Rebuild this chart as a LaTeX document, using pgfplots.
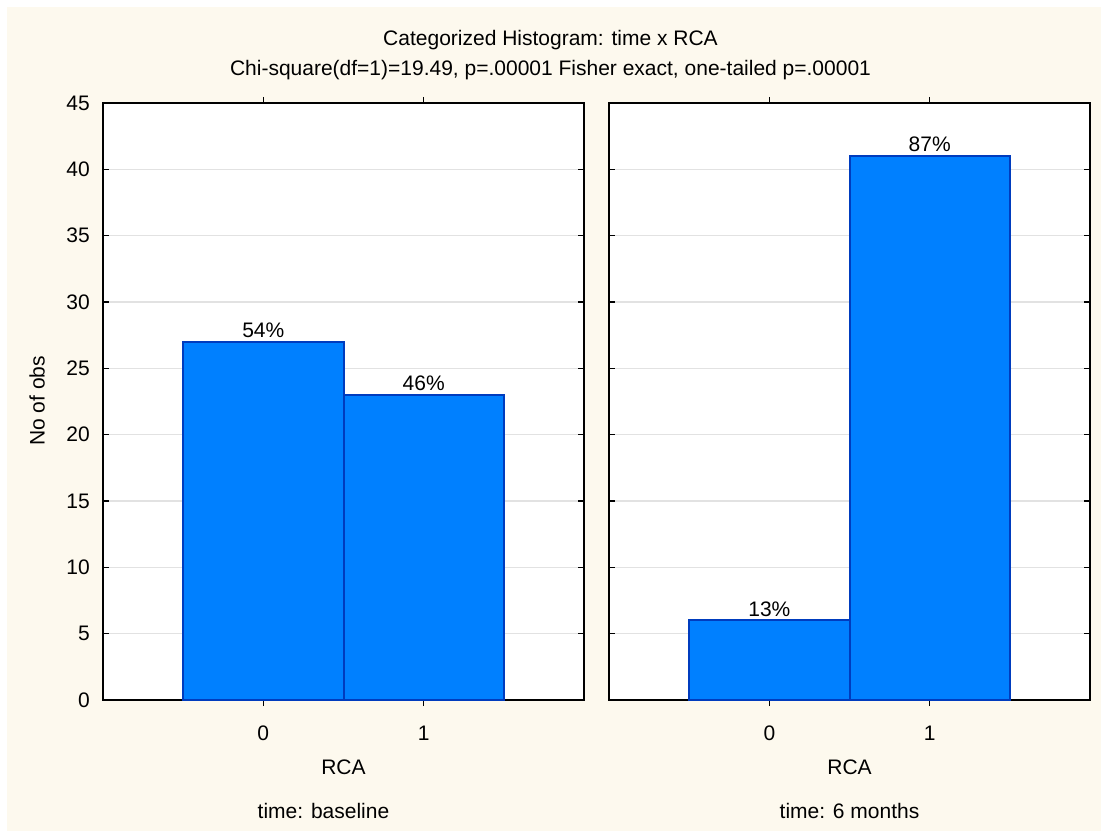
\documentclass[border=0pt]{standalone}
\usepackage{pgfplots}
\pgfplotsset{compat=1.18}
\usepackage{fontspec}
\setmainfont{Liberation Sans}
\definecolor{bgcream}{RGB}{253,249,238}
\definecolor{barfill}{RGB}{0,128,255}
\definecolor{baredge}{RGB}{0,60,190}
\definecolor{gridc}{RGB}{226,226,226}
\pgfplotsset{
  layers/mylayers/.define layer set={axis background,axis grid,main,axis ticks,axis lines,axis tick labels,axis descriptions,axis foreground}{},
}
\newcommand{\ff}{\fontsize{21}{25}\selectfont}
\pgfplotsset{
  panel/.style={
    set layers=mylayers,
    scale only axis,
    width=481pt, height=597pt,
    anchor=south west,
    axis background/.style={fill=white},
    xmin=-1, xmax=2, ymin=0, ymax=45,
    xtick={0,1}, ytick={0,5,...,45},
    ymajorgrids, grid style={gridc, line width=1.3pt},
    axis line style={black, line width=1.6pt},
    tick style={black, line width=1.5pt},
    tick align=inside, major tick length=6pt,
    font=\ff,
    /pgf/number format/assume math mode=true,
    xticklabel style={anchor=center, yshift=-27pt, inner sep=0pt},
    yticklabel style={anchor=east, xshift=-13pt, inner sep=0pt},
    xlabel={RCA},
    xlabel style={at={(axis description cs:0.5,0)}, anchor=center, yshift=-67pt, inner sep=0pt},
    ybar, bar width=1, bar shift=0,
    nodes near coords,
    point meta=explicit symbolic,
    every node near coord/.append style={font=\ff, black, inner sep=3pt, anchor=south},
  },
}
\begin{document}
\begin{tikzpicture}
\fill[white] (0,0) rectangle (1101pt,831pt);
\fill[bgcream] (7pt,0) rectangle (1101pt,824pt);
\node[font=\ff, anchor=center] at (550.5pt,791pt) {Categorized Histogram: time x RCA};
\node[font=\ff, anchor=center] at (550.5pt,761pt) {Chi-square(df=1)=19.49, p=.00001 Fisher exact, one-tailed p=.00001};
\node[font=\ff, anchor=center, rotate=90] at (37pt,430pt) {No of obs};
\node[font=\ff, anchor=center] at (323.5pt,20pt) {time: baseline};
\node[font=\ff, anchor=center] at (849.5pt,20pt) {time: 6 months};
\begin{axis}[panel, at={(103pt,131pt)}]
\addplot[fill=barfill, draw=baredge, line width=2pt] coordinates {(0,27) [54\%] (1,23) [46\%]};
\end{axis}
\begin{axis}[panel, at={(609pt,131pt)}, yticklabels={}]
\addplot[fill=barfill, draw=baredge, line width=2pt] coordinates {(0,6) [13\%] (1,41) [87\%]};
\end{axis}
\pgfresetboundingbox
\useasboundingbox (0,0) rectangle (1101pt,831pt);
\end{tikzpicture}
\end{document}
